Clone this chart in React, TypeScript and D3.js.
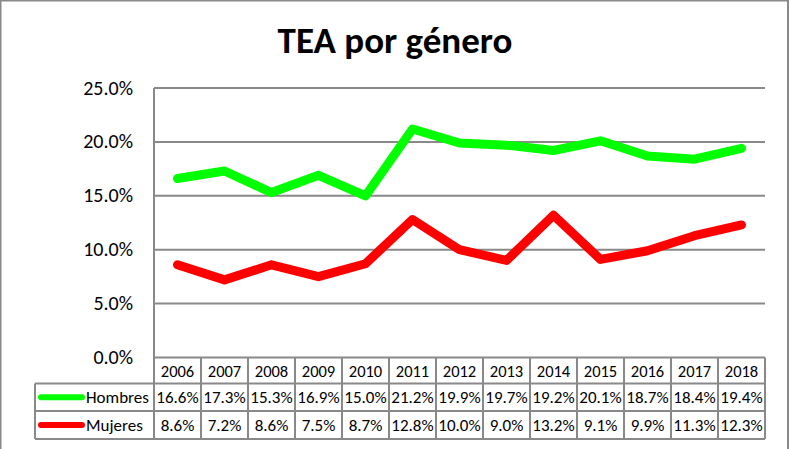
import * as d3 from 'd3';
import { useEffect, useRef } from 'react';

const years = ['2006', '2007', '2008', '2009', '2010', '2011', '2012', '2013', '2014', '2015', '2016', '2017', '2018'];
const hombres = [16.6, 17.3, 15.3, 16.9, 15.0, 21.2, 19.9, 19.7, 19.2, 20.1, 18.7, 18.4, 19.4];
const mujeres = [8.6, 7.2, 8.6, 7.5, 8.7, 12.8, 10.0, 9.0, 13.2, 9.1, 9.9, 11.3, 12.3];
const yTicks = [0, 5, 10, 15, 20, 25];
const seriesNames = ['Hombres', 'Mujeres'];
const seriesColors = ['#00ff00', '#ff0000'];

const FONT = 'Calibri, Carlito, Lato, sans-serif';
const GRAY = '#898989';

export default function App() {
    const ref = useRef<any>();

    useEffect(() => {
        const width = 789;
        const height = 449;
        const plot = { left: 154, right: 765, top: 88, bottom: 357.5 };
        const rows = { year: 383.5, h: 411, m: 439 };
        const legendLeft = 35;

        const svg = d3.select<any, any>(ref.current)
            .attr('width', width)
            .attr('height', height);
        svg.selectAll('*').remove();

        svg.append('rect')
            .attr('x', 0).attr('y', 0)
            .attr('width', width).attr('height', height)
            .attr('fill', 'white');

        // outer frame
        svg.append('path')
            .attr('d', `M0.5,${height} V0.5 H788 V${height}`)
            .attr('fill', 'none')
            .attr('stroke', GRAY)
            .attr('stroke-width', 2);

        svg.append('text')
            .attr('x', 395)
            .attr('y', 53)
            .attr('text-anchor', 'middle')
            .attr('font-family', FONT)
            .attr('font-weight', 'bold')
            .attr('font-size', 37)
            .text('TEA por género');

        const xScale = d3.scaleBand().domain(years).range([plot.left, plot.right]);
        const yScale = d3.scaleLinear().domain([0, 25]).range([plot.bottom, plot.top]);
        const fmt = d3.format('.1f');

        // gridlines
        svg.append('g').selectAll('line').data(yTicks).join('line')
            .attr('x1', plot.left).attr('x2', plot.right)
            .attr('y1', d => yScale(d)).attr('y2', d => yScale(d))
            .attr('stroke', GRAY).attr('stroke-width', 2);

        // y axis labels
        svg.append('g').selectAll('text').data(yTicks).join('text')
            .attr('x', 133)
            .attr('y', d => yScale(d) + 6.5)
            .attr('text-anchor', 'end')
            .attr('font-family', FONT)
            .attr('font-size', 20)
            .text(d => fmt(d) + '%');

        // y axis line + table
        const grid = svg.append('g').attr('stroke', GRAY).attr('stroke-width', 2).attr('fill', 'none');
        grid.append('line').attr('x1', plot.left).attr('x2', plot.left).attr('y1', plot.top).attr('y2', rows.m);
        grid.append('line').attr('x1', plot.right).attr('x2', plot.right).attr('y1', plot.bottom).attr('y2', rows.m);
        grid.append('line').attr('x1', legendLeft).attr('x2', legendLeft).attr('y1', rows.year).attr('y2', rows.m);
        [rows.year, rows.h, rows.m].forEach(y => {
            grid.append('line').attr('x1', legendLeft).attr('x2', plot.right).attr('y1', y).attr('y2', y);
        });
        grid.selectAll('.col').data(years.slice(1)).join('line')
            .attr('class', 'col')
            .attr('x1', d => xScale(d)!).attr('x2', d => xScale(d)!)
            .attr('y1', plot.bottom).attr('y2', rows.m);

        const cx = (d: string) => xScale(d)! + xScale.bandwidth() / 2;

        svg.append('g').selectAll('text').data(years).join('text')
            .attr('x', cx)
            .attr('y', (plot.bottom + rows.year) / 2 + 6)
            .attr('text-anchor', 'middle')
            .attr('font-family', FONT)
            .attr('font-size', 16.5)
            .text(d => d);

        const series = [hombres, mujeres];
        const rowMid = [(rows.year + rows.h) / 2, (rows.h + rows.m) / 2];

        series.forEach((vals, si) => {
            svg.append('g').selectAll('text').data(vals).join('text')
                .attr('x', (_d, i) => cx(years[i]))
                .attr('y', rowMid[si] + 6)
                .attr('text-anchor', 'middle')
                .attr('font-family', FONT)
                .attr('font-size', 17)
                .text(d => fmt(d) + '%');

            // legend key
            svg.append('line')
                .attr('x1', 41).attr('x2', 82)
                .attr('y1', rowMid[si]).attr('y2', rowMid[si])
                .attr('stroke', seriesColors[si])
                .attr('stroke-width', 6)
                .attr('stroke-linecap', 'round');
            svg.append('text')
                .attr('x', 86)
                .attr('y', rowMid[si] + 6)
                .attr('font-family', FONT)
                .attr('font-size', 17)
                .text(seriesNames[si]);

            const line = d3.line<number>()
                .x((_d, i) => cx(years[i]))
                .y(d => yScale(d));
            svg.append('path')
                .attr('d', line(vals))
                .attr('fill', 'none')
                .attr('stroke', seriesColors[si])
                .attr('stroke-width', 9)
                .attr('stroke-linecap', 'round')
                .attr('stroke-linejoin', 'round');
        });
    });

    return (
        <svg ref={ref} style={{ position: 'absolute', left: 0, top: 0 }}></svg>
    );
}
